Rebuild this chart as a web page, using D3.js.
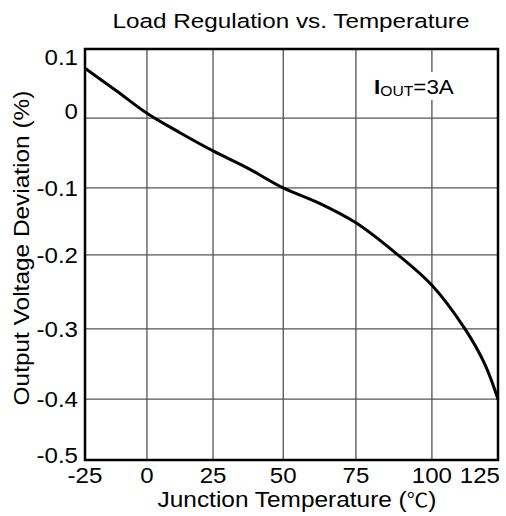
<!DOCTYPE html>
<html>
<head>
<meta charset="utf-8">
<script src="https://cdn.jsdelivr.net/npm/d3@7"></script>
<style>
  body { margin: 0; background: #fff; }
  text { font-family: "Liberation Sans", Arial, sans-serif; fill: #000; }
</style>
</head>
<body>
<script>
// data
var temps  = [-25, -12.5, 0, 12.5, 25, 37.5, 50, 62.5, 75, 87.5, 100, 112.5, 120, 125];
var devs   = [0.072, 0.04, 0.007, -0.021, -0.047, -0.072, -0.1, -0.123, -0.152, -0.195, -0.241, -0.3, -0.35, -0.4];

var xTicks = [-25, 0, 25, 50, 75, 100, 125];
var yTicks = [0.1, 0, -0.1, -0.2, -0.3, -0.4, -0.5];
var yTickLabels = ["0.1", "0", "-0.1", "-0.2", "-0.3", "-0.4", "-0.5"];

var width = 506, height = 516;
var plotLeft = 85, plotRight = 498, plotTop = 49, plotBottom = 460;
var sx = 1.12; // the printed font is a bit wide

//the printed grid is not evenly spaced, so the scales are piecewise
var xFrac = [0, 0.150, 0.310, 0.480, 0.656, 0.840, 1];
var yFrac = [0, 0.168, 0.338, 0.501, 0.681, 0.852, 1];

var x = d3.scaleLinear()
          .domain(xTicks)
          .range(xFrac.map(function(f) { return plotLeft + f * (plotRight - plotLeft); }));
var y = d3.scaleLinear()
          .domain(yTicks)
          .range(yFrac.map(function(f) { return plotTop + f * (plotBottom - plotTop); }));

var svg = d3.select("body").append("svg")
            .attr("width", width)
            .attr("height", height);

//stretch a centered text horizontally to a given width
function stretchText(sel, cx, cy, w, rot) {
    var t = sel.node().getComputedTextLength();
    sel.attr("transform", "translate(" + cx + "," + cy + ")" + (rot ? " rotate(" + rot + ")" : "") +
                          " scale(" + (w / t) + ",1)");
}

//title
var title = svg.append("text").attr("text-anchor", "middle")
                              .attr("font-size", "20.5px")
                              .text("Load Regulation vs. Temperature");
stretchText(title, 291, 28, 357);

//grid lines
svg.append("g").selectAll("line").data(xTicks.slice(1, -1)).enter()
   .append("line")
   .attr("x1", function(d) { return x(d); })
   .attr("x2", function(d) { return x(d); })
   .attr("y1", plotTop).attr("y2", plotBottom)
   .attr("stroke", "#444").attr("stroke-width", 1.2);

svg.append("g").selectAll("line").data(yTicks.slice(1, -1)).enter()
   .append("line")
   .attr("x1", plotLeft).attr("x2", plotRight)
   .attr("y1", function(d) { return y(d); })
   .attr("y2", function(d) { return y(d); })
   .attr("stroke", "#555").attr("stroke-width", 1.2);

//label box, it hides the grid behind it
var note = svg.append("g");
note.append("rect").attr("x", 372).attr("y", 72)
                   .attr("width", 88).attr("height", 28)
                   .attr("fill", "#fff");
var noteText = note.append("text").attr("transform", "translate(374,94) scale(" + sx + ",1)")
                   .attr("font-size", "20px");
noteText.append("tspan").attr("font-weight", "bold").text("I");
noteText.append("tspan").attr("font-size", "14px").attr("dy", 2).text("OUT");
noteText.append("tspan").attr("dy", -2).text("=3A");

//curve
var line = d3.line()
             .x(function(d, i) { return x(temps[i]); })
             .y(function(d) { return y(d); })
             .curve(d3.curveCatmullRom.alpha(0.5));

svg.append("path").datum(devs)
                  .attr("d", line)
                  .attr("fill", "none")
                  .attr("stroke", "#000")
                  .attr("stroke-width", 3);

//frame
svg.append("rect").attr("x", plotLeft).attr("y", plotTop)
                  .attr("width", plotRight - plotLeft).attr("height", plotBottom - plotTop)
                  .attr("fill", "none")
                  .attr("stroke", "#000")
                  .attr("stroke-width", 2.5);

//tick labels
svg.append("g").selectAll("text").data(yTicks).enter()
   .append("text")
   .attr("transform", function(d, i) {
       var off = i == 0 ? 16 : (i == 1 ? 1 : (i == 6 ? 3 : 8));
       return "translate(78," + (y(d) + off) + ") scale(" + sx + ",1)";
   })
   .attr("text-anchor", "end")
   .attr("font-size", "21.5px")
   .text(function(d, i) { return yTickLabels[i]; });

svg.append("g").selectAll("text").data(xTicks).enter()
   .append("text")
   .attr("transform", function(d, i) {
       var px = i == xTicks.length - 1 ? x(d) + 2 : x(d);
       return "translate(" + px + ",483) scale(" + sx + ",1)";
   })
   .attr("text-anchor", function(d, i) { return i == xTicks.length - 1 ? "end" : "middle"; })
   .attr("font-size", "21.5px")
   .text(function(d) { return d; });

//axis titles
var xTitle = svg.append("text").attr("text-anchor", "middle")
                               .attr("font-size", "21.5px");
xTitle.append("tspan").text("Junction Temperature (");
xTitle.append("tspan").attr("font-family", "'Noto Sans CJK SC'").attr("font-size", "19px").text("℃");
xTitle.append("tspan").text(")");
stretchText(xTitle, 297, 507, 279);

var yTitle = svg.append("text").attr("text-anchor", "middle")
                               .attr("font-size", "21.5px")
                               .text("Output Voltage Deviation (%)");
stretchText(yTitle, 29, 248, 315, -90);
</script>
</body>
</html>
